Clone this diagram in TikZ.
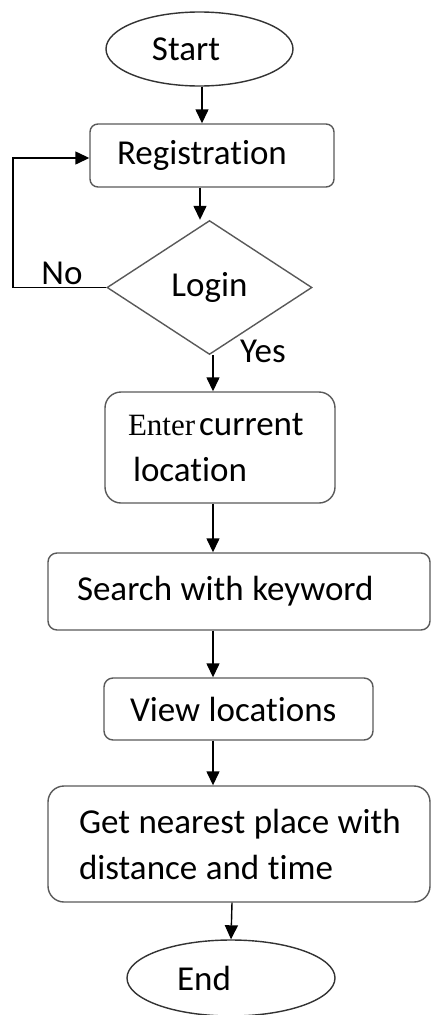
\documentclass[tikz,border=0pt]{standalone}
\usepackage{fontspec}
\setmainfont[Ligatures=NoCommon]{Carlito}
\newfontfamily\serifword{Liberation Serif}
\newcommand\tightspaces{\spaceskip=8.5pt\relax}
\usetikzlibrary{shapes.geometric,arrows.meta}
\begin{document}
\begin{tikzpicture}[x=1pt,y=-1pt,
  font=\fontsize{35}{46}\selectfont,
  execute at begin node=\tightspaces,
  boxline/.style={draw=black!65, line width=1.4pt},
  procbox/.style={boxline, rectangle, inner ysep=0pt, align=left},
  termin/.style={boxline, draw=black!80, ellipse, inner sep=0pt},
  flow/.style={draw=black, line width=1.4pt, -{Triangle[width=13pt,length=14pt]}},
  lbl/.style={inner sep=0pt}]
\useasboundingbox (0,0) rectangle (431,1015);
% nodes
\node[termin, minimum width=187pt, minimum height=74pt] (start) at (199.5,49) {Start\kern27pt};
\node[procbox, rounded corners=8pt, minimum height=63pt, inner xsep=27pt, text width=190pt] (reg) at (212,155.5) {\mbox{Registration}};
\node[boxline, diamond, aspect=1.53, minimum width=205pt, minimum height=134pt, inner sep=0pt] (login) at (209.5,287.5) {Login};
\node[procbox, rounded corners=16pt, minimum height=111pt, inner xsep=23pt, text width=184pt] (enter) at (220,447.5)
  {\mbox{{\serifword\fontsize{31}{46}\selectfont Enter}\kern4pt current}\\\hspace*{5pt}location};
\node[procbox, rounded corners=9pt, minimum height=77pt, inner xsep=29pt, text width=324pt] (search) at (239,591.5) {\mbox{Search with keyword}};
\node[procbox, rounded corners=9pt, minimum height=62pt, inner xsep=26pt, text width=217pt] (view) at (238.5,709) {\mbox{View locations}};
\node[procbox, rounded corners=16pt, minimum height=116pt, inner xsep=31pt, text width=320pt] (get) at (239,844)
  {\mbox{Get nearest place with}\\\mbox{distance and time}};
\node[termin, minimum width=208pt, minimum height=76pt] (end) at (231,978) {End\kern54pt};
% labels
\node[lbl] (no) at (62,273) {No};
\node[lbl] (yes) at (263,351) {Yes};
% helper coordinates
\coordinate (xa) at (202,0);
\coordinate (xb) at (200,0);
\coordinate (xc) at (213,0);
\coordinate (xd) at (232,0);
\coordinate (c1) at (13,287.5);
\coordinate (c2) at (13,158);
% connectors
\draw[flow] (start.south -| xa) -- (reg.north -| xa);
\draw[flow] (reg.south -| xb) -- (login.north -| xb);
\draw[flow] (login.west) -- (c1) -- (c2) -- (reg.west |- c2);
\draw[flow] (login.south -| xc) -- (enter.north -| xc);
\draw[flow] (enter.south -| xc) -- (search.north -| xc);
\draw[flow] (search.south -| xc) -- (view.north -| xc);
\draw[flow] (view.south -| xc) -- (get.north -| xc);
\draw[flow] (get.south -| xd) -- (end.north);
\end{tikzpicture}
\end{document}
